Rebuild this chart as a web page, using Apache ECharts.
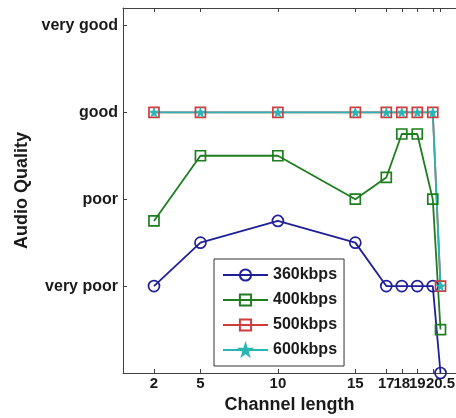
<!DOCTYPE html>
<html>
<head>
<meta charset="utf-8">
<script src="https://cdn.jsdelivr.net/npm/echarts@6/dist/echarts.min.js"></script>
<style>
html,body{margin:0;padding:0;background:#fff;}
#chart{width:456px;height:418px;}
</style>
</head>
<body>
<div id="chart"></div>
<script>
// Data
const channelLength = [2, 5, 10, 15, 17, 18, 19, 20, 20.5];
const xTickValues = [2, 5, 10, 15, 17, 18, 19, 20, 20.5];
const xLabelValues = [2, 5, 10, 15, 17, 18, 19, 20.5];
const yTickValues = [1, 2, 3, 4];
const qualityLabels = ['very poor', 'poor', 'good', 'very good'];
const seriesNames = ['360kbps', '400kbps', '500kbps', '600kbps'];
const q360 = [1, 1.5, 1.75, 1.5, 1, 1, 1, 1, 0];
const q400 = [1.75, 2.5, 2.5, 2, 2.25, 2.75, 2.75, 2, 0.5];
const q500 = [3, 3, 3, 3, 3, 3, 3, 3, 1];
const q600 = [3, 3, 3, 3, 3, 3, 3, 3, 1];

const FONT = '"Liberation Sans", Arial, sans-serif';
const AX = '#404040';
const starPath = 'path://M50,0 L61,35 L98,35 L68,57 L79,91 L50,70 L21,91 L32,57 L2,35 L39,35 Z';

function pairs(vals) { return channelLength.map((x, i) => [x, vals[i]]); }

function mk(name, vals, color, symbol, size, filled) {
  return {
    name: name,
    type: 'line',
    data: pairs(vals),
    clip: false,
    symbol: symbol,
    symbolSize: size,
    color: color,
    lineStyle: { color: color, width: 1.8 },
    itemStyle: filled
      ? { color: color, borderColor: color, borderWidth: 1 }
      : { color: 'rgba(255,255,255,0)', borderColor: color, borderWidth: 1.7 },
    emphasis: { disabled: true },
    animation: false
  };
}

const chart = echarts.init(document.getElementById('chart'), null, { renderer: 'canvas' });
chart.setOption({
  backgroundColor: '#fff',
  animation: false,
  grid: { left: 123, right: 0, top: 8, bottom: 45, containLabel: false, outerBoundsMode: 'none' },
  legend: {
    orient: 'vertical',
    left: 214, top: 259,
    padding: [8, 7, 8, 8],
    itemWidth: 45, itemHeight: 14, itemGap: 9,
    borderColor: '#333', borderWidth: 1,
    backgroundColor: '#fff',
    data: seriesNames,
    textStyle: { fontFamily: FONT, fontWeight: 'bold', fontSize: 16, color: '#1a1a1a', lineHeight: 14, padding: [0, 0, 0, 0] }
  },
  xAxis: [{
    type: 'value', min: 0, max: 21.5, position: 'bottom',
    name: 'Channel length', nameLocation: 'middle', nameGap: 16,
    nameTextStyle: { fontFamily: FONT, fontWeight: 'bold', fontSize: 18, color: '#1a1a1a' },
    splitLine: { show: false },
    axisLine: { show: true, lineStyle: { color: AX, width: 1 } },
    axisTick: { show: true, inside: true, length: 4, customValues: xTickValues, lineStyle: { color: AX } },
    axisLabel: { show: true, customValues: xLabelValues, hideOverlap: false, showMaxLabel: true, showMinLabel: true, margin: 3, fontFamily: FONT, fontWeight: 'bold', fontSize: 15, color: '#1a1a1a' }
  }, {
    type: 'value', min: 0, max: 21.5, position: 'top',
    splitLine: { show: false },
    axisLine: { show: true, lineStyle: { color: AX, width: 1 } },
    axisTick: { show: true, inside: true, length: 4, customValues: xTickValues, lineStyle: { color: AX } },
    axisLabel: { show: false }
  }],
  yAxis: {
    type: 'value', min: 0, max: 4.2,
    name: 'Audio Quality', nameLocation: 'middle', nameGap: 92, nameRotate: 90,
    nameTextStyle: { fontFamily: FONT, fontWeight: 'bold', fontSize: 18, color: '#1a1a1a' },
    splitLine: { show: false },
    axisLine: { show: true, lineStyle: { color: AX, width: 1 } },
    axisTick: { show: true, inside: true, length: 4, customValues: yTickValues, lineStyle: { color: AX } },
    axisLabel: {
      show: true, customValues: yTickValues, margin: 5,
      fontFamily: FONT, fontWeight: 'bold', fontSize: 16, color: '#1a1a1a',
      formatter: v => qualityLabels[Math.round(v) - 1] || ''
    }
  },
  series: [
    mk(seriesNames[0], q360, '#1f1f99', 'circle', 11, false),
    mk(seriesNames[1], q400, '#1e7d1e', 'rect', 10, false),
    mk(seriesNames[2], q500, '#d03c3c', 'rect', 10, false),
    mk(seriesNames[3], q600, '#2ab5b5', starPath, 9, true)
  ]
});
</script>
</body>
</html>
